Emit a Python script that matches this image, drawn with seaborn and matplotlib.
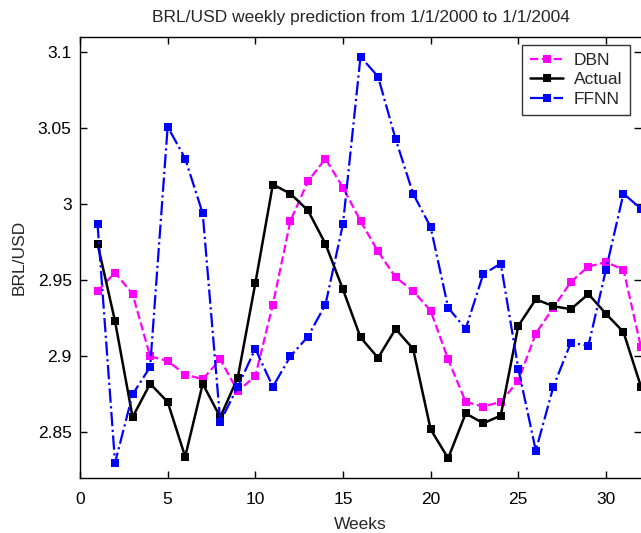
import numpy as np
import pandas as pd
import matplotlib
matplotlib.use("Agg")
import matplotlib.pyplot as plt
import seaborn as sns

weeks = list(range(1, 33))
dbn = [2.943, 2.955, 2.941, 2.900, 2.897, 2.888, 2.885, 2.898, 2.877, 2.887,
       2.934, 2.989, 3.015, 3.030, 3.011, 2.989, 2.969, 2.952, 2.943, 2.930,
       2.898, 2.870, 2.867, 2.870, 2.884, 2.915, 2.932, 2.949, 2.959, 2.962,
       2.957, 2.906]
actual = [2.974, 2.923, 2.860, 2.882, 2.870, 2.834, 2.882, 2.860, 2.886, 2.948,
          3.013, 3.007, 2.996, 2.974, 2.944, 2.9125, 2.899, 2.918, 2.905, 2.852,
          2.833, 2.8625, 2.856, 2.861, 2.920, 2.9375, 2.933, 2.931, 2.941, 2.928,
          2.916, 2.880]
ffnn = [2.987, 2.830, 2.875, 2.893, 3.051, 3.030, 2.994, 2.857, 2.880, 2.905,
        2.880, 2.900, 2.913, 2.934, 2.987, 3.097, 3.084, 3.043, 3.007, 2.985,
        2.932, 2.918, 2.954, 2.961, 2.892, 2.838, 2.880, 2.909, 2.907, 2.957,
        3.007, 2.997]
xticks = [0, 5, 10, 15, 20, 25, 30]
yticks = [2.85, 2.9, 2.95, 3.0, 3.05, 3.1]
ytick_labels = ["2.85", "2.9", "2.95", "3", "3.05", "3.1"]

sns.set_style("white")
plt.rcParams['font.family'] = ['Liberation Sans', 'DejaVu Sans']

W, H = 641, 533
fig = plt.figure(figsize=(W / 100, H / 100), dpi=100)
ax = fig.add_axes([80 / W, (H - 478) / H, 1 - 80 / W, (478 - 37) / H])

ms = 5.5
sns.lineplot(x=weeks, y=dbn, ax=ax, color='#ff00ff', linestyle='--', marker='s',
             markersize=ms, markeredgewidth=0, linewidth=1.6, label='DBN')
sns.lineplot(x=weeks, y=actual, ax=ax, color='black', linestyle='-', marker='s',
             markersize=ms, markeredgewidth=0, linewidth=1.8, label='Actual')
sns.lineplot(x=weeks, y=ffnn, ax=ax, color='#0000ff', linestyle='-.', marker='s',
             markersize=ms, markeredgewidth=0, linewidth=1.6, label='FFNN')

ax.set_xlim(0, 32)
ax.set_ylim(2.82, 3.11)
ax.set_xticks(xticks)
ax.set_xticklabels([str(t) for t in xticks])
ax.set_yticks(yticks)
ax.set_yticklabels(ytick_labels)
ax.tick_params(direction='in', length=5, width=1, colors='black', labelsize=12.5,
               top=True, right=True, bottom=True, left=True)
ax.tick_params(axis='x', pad=10)
ax.tick_params(axis='y', pad=6)
for s in ['left', 'bottom', 'top']:
    ax.spines[s].set_color('black')
    ax.spines[s].set_linewidth(1)
ax.spines['right'].set_visible(False)

ax.set_xlabel('Weeks', fontsize=12.5, labelpad=7)
ax.set_ylabel('BRL/USD', fontsize=12.5, labelpad=8)
ax.set_title('BRL/USD weekly prediction from 1/1/2000 to 1/1/2004', fontsize=12.5, pad=11)

leg = ax.legend(loc='upper right', bbox_to_anchor=(630 / W, 1 - 45 / H),
                bbox_transform=fig.transFigure, borderaxespad=0,
                fontsize=12.5, frameon=True, fancybox=False, edgecolor='black',
                borderpad=0.45, labelspacing=0.25, handlelength=1.9, handletextpad=0.6)
leg.get_frame().set_linewidth(1)

fig.savefig('out.png', dpi=100)
